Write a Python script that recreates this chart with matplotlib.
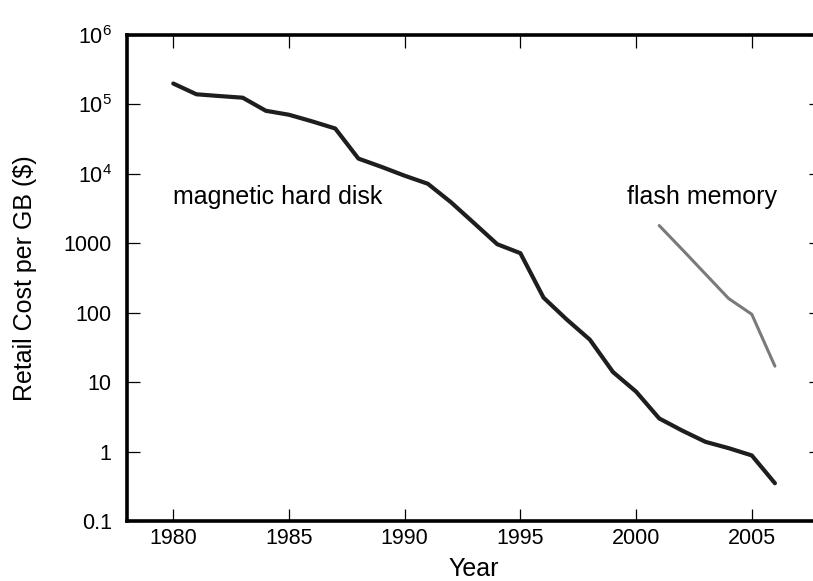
import matplotlib
matplotlib.use("Agg")
import matplotlib.pyplot as plt
from matplotlib.ticker import FixedLocator, FixedFormatter, NullLocator

plt.rcParams['font.family'] = ['Liberation Sans', 'DejaVu Sans']
plt.rcParams['mathtext.fontset'] = 'custom'
plt.rcParams['mathtext.rm'] = 'Liberation Sans'
plt.rcParams['mathtext.it'] = 'Liberation Sans:italic'

# Data
disk_years = list(range(1980, 2007))
disk_cost = [2.0e5, 1.4e5, 1.32e5, 1.25e5, 8.1e4, 7.1e4, 5.7e4, 4.5e4, 1.66e4,
             1.26e4, 9.4e3, 7.2e3, 3.9e3, 1.95e3, 970, 720, 165, 80, 41,
             14, 7.3, 3.0, 2.0, 1.38, 1.12, 0.88, 0.35]
flash_years = [2001, 2002, 2003, 2004, 2005, 2006]
flash_cost = [1800, 810, 360, 160, 95, 17]

x_ticks = [1980, 1985, 1990, 1995, 2000, 2005]
y_ticks = [0.1, 1, 10, 100, 1000, 1e4, 1e5, 1e6]
y_tick_labels = ['0.1', '1', '10', '100', '1000', r'$10^{4}$', r'$10^{5}$', r'$10^{6}$']

fig = plt.figure(figsize=(8.13, 5.81), dpi=100)
ax = fig.add_axes([127/813, 60/581, 694.2/813, 486/581])

ax.plot(disk_years, disk_cost, color='#1e1e1e', lw=3.0, solid_capstyle='round')
ax.plot(flash_years, flash_cost, color='#7a7a7a', lw=2.2, solid_capstyle='round')

ax.set_yscale('log')
ax.set_xlim(1978, 2008)
ax.set_ylim(0.1, 1e6)

ax.xaxis.set_major_locator(FixedLocator(x_ticks))
ax.xaxis.set_minor_locator(NullLocator())
ax.yaxis.set_major_locator(FixedLocator(y_ticks))
ax.yaxis.set_major_formatter(FixedFormatter(y_tick_labels))
ax.yaxis.set_minor_locator(NullLocator())

ax.tick_params(axis='both', which='major', direction='in', length=9, width=0.9,
               top=True, right=True, labelsize=15.5, colors='black')
ax.tick_params(axis='y', pad=11)
ax.tick_params(axis='x', pad=5)

for s in ax.spines.values():
    s.set_linewidth(2.6)
    s.set_color('black')

ax.set_xlabel('Year', fontsize=18, labelpad=6)
ax.set_ylabel('Retail Cost per GB ($)', fontsize=18, labelpad=19)

ax.text(1980, 4.7e3, 'magnetic hard disk', fontsize=18, ha='left', va='center')
ax.text(1999.6, 4.6e3, 'flash memory', fontsize=18, ha='left', va='center')

fig.savefig('out.png', dpi=100)
